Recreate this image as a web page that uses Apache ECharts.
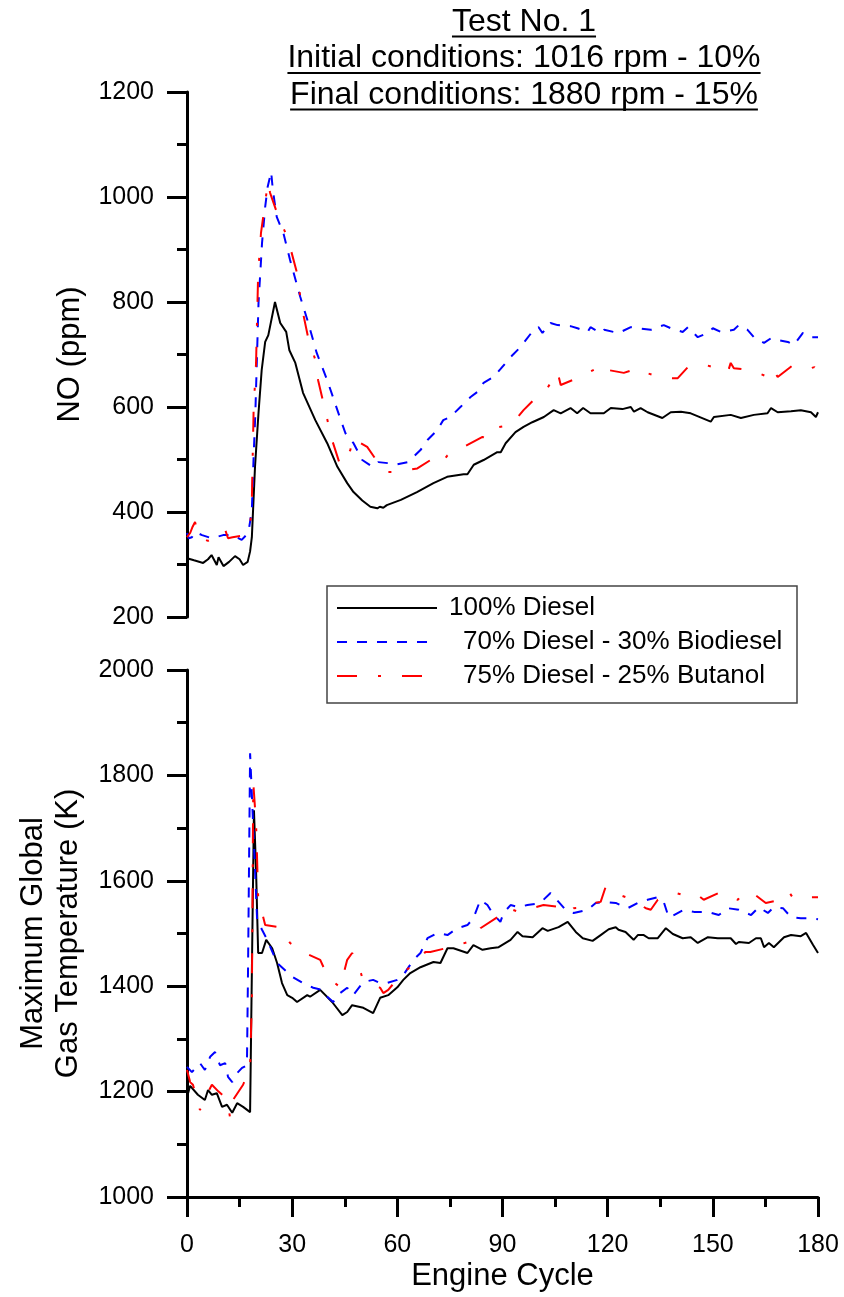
<!DOCTYPE html>
<html>
<head>
<meta charset="utf-8">
<title>Test No. 1</title>
<script src="https://cdn.jsdelivr.net/npm/echarts@6/dist/echarts.min.js"></script>
<style>
  html, body { margin: 0; padding: 0; background: #fff; }
  #chart { width: 844px; height: 1297px; }
</style>
</head>
<body>
<div id="chart"></div>
<script>
// ---- data: [engine cycle, value] ----
const seriesNames = ['100% Diesel', '70% Diesel - 30% Biodiesel', '75% Diesel - 25% Butanol'];
const titleLines = ['Test No. 1', 'Initial conditions: 1016 rpm - 10%', 'Final conditions: 1880 rpm - 15%'];
const xTicks = [0, 30, 60, 90, 120, 150, 180];

// NO (ppm)
const noDiesel = [
  [0, 312], [2, 308], [4.6, 303], [6, 310], [7, 318], [8.5, 299], [9, 314], [10.4, 297], [12, 305],
  [13.7, 316], [15, 310], [16, 299], [17.3, 305], [18, 325], [18.5, 352], [19.4, 486], [20.4, 589],
  [21.3, 670], [22.3, 724], [23.2, 737], [25.1, 800], [26.6, 760], [28.3, 743], [29.2, 708], [30.9, 684],
  [33.1, 627], [36.6, 575], [40, 531], [42.9, 486], [45.7, 455], [47.5, 438], [50, 422], [52.3, 410],
  [54.3, 407], [55, 410], [56, 408], [57, 413], [61, 423], [65.6, 438], [70.3, 455], [74.2, 467],
  [78.9, 472], [80, 472], [81.8, 490], [84.6, 499], [88.5, 514], [89.5, 514], [90.9, 531], [93.7, 552],
  [96, 562], [98.5, 571], [101.8, 581], [104.6, 594], [106.6, 588], [109.4, 598], [111.3, 588], [113, 598],
  [115.1, 588], [118.9, 588], [120.9, 598], [124.2, 596], [126.6, 600], [127.5, 591], [129.4, 598],
  [131.4, 590], [135.6, 579], [138, 590], [140.9, 591], [143.7, 588], [149.4, 572], [150.3, 581],
  [155.1, 585], [158, 579], [161.7, 585], [165.6, 588], [166.6, 598], [168.5, 590], [172.3, 592],
  [175.1, 594], [178, 590], [179.4, 581], [180, 590]
];
const noBiodiesel = [
  [0, 360], [0.5, 350], [1.4, 352], [2.3, 362], [4.3, 356], [7.1, 350], [10.3, 356], [13, 356],
  [15.6, 347], [17.5, 360], [18.5, 404], [19, 505], [19.5, 589], [20.4, 798], [21.4, 912], [22.3, 981],
  [23, 1019], [24, 1048], [24.5, 1013], [25.6, 962], [27.5, 931], [29.4, 880], [32.3, 810], [34.6, 760],
  [37, 703], [40, 651], [42.9, 594], [45.2, 550], [47.5, 531], [50, 499], [52.9, 486], [54.6, 495],
  [57.4, 493], [59.4, 490], [62.9, 495], [64.6, 505], [66.6, 518], [68.6, 537], [71.4, 556], [73.1, 575],
  [75.1, 581], [78, 600], [80.9, 619], [82.9, 629], [84.6, 646], [87.4, 657], [89.4, 672], [92.6, 697],
  [95.1, 714], [98.9, 747], [100.3, 752], [101.4, 741], [103.7, 760], [105.7, 756], [109.4, 754],
  [111.4, 750], [114.3, 743], [115.1, 752], [118, 741], [119, 747], [121.7, 743], [123.1, 741],
  [126.6, 752], [128.6, 750], [132.3, 747], [134.2, 752], [136, 756], [138, 750], [141.4, 743],
  [142.9, 752], [145.1, 737], [145.7, 733], [148.6, 741], [150, 750], [152.3, 743], [156, 747],
  [157.4, 756], [159.9, 747], [161.7, 733], [164.6, 722], [166.6, 731], [168, 728], [171.4, 724],
  [173.1, 718], [175.7, 741], [178, 733], [180, 733]
];
const noButanol = [
  [0, 352], [0.9, 360], [1.6, 372], [2.3, 381], [3.3, 352], [6, 345], [8, 352], [9.4, 362], [10.9, 366],
  [11.7, 350], [13, 352], [16.6, 356], [18, 371], [18.5, 423], [19, 594], [19.7, 684], [20.3, 855],
  [21.1, 931], [23.1, 1029], [23.7, 1008], [25.4, 975], [28, 933], [29.4, 905], [31.4, 855], [32.3, 810],
  [33.1, 779], [34.6, 731], [36.6, 690], [37.4, 651], [38.9, 608], [41.4, 537], [43.7, 489], [46.6, 518],
  [47.1, 541], [51.4, 524], [54.6, 493], [55.1, 486], [57, 476], [59.4, 476], [65.7, 483], [70.9, 505],
  [72.9, 495], [74.3, 508], [78.9, 524], [84.3, 543], [85.3, 541], [87.1, 560], [92.3, 565], [96, 594],
  [99.4, 617], [102.8, 636], [105.7, 667], [106.6, 642], [111.4, 655], [117, 674], [120, 680],
  [120.5, 670], [124.6, 665], [128.9, 674], [130, 670], [131, 665], [136, 655], [140, 655], [142.9, 676],
  [148, 680], [154.3, 667], [155.1, 684], [156, 674], [160.9, 670], [166.6, 655], [167.4, 670],
  [168.5, 657], [172.9, 680], [178, 674], [179, 676], [180, 667]
];

// Maximum global gas temperature (K)
const tDiesel = [
  [0, 1190], [0.9, 1211], [1.4, 1209], [3.1, 1194], [5.1, 1184], [6, 1203], [7.1, 1194], [8.5, 1197],
  [10, 1171], [11.4, 1175], [12.9, 1160], [14.3, 1178], [16, 1171], [18, 1161], [18.5, 1425], [19.1, 1734],
  [19.7, 1620], [20.3, 1463], [21.4, 1463], [22.6, 1488], [24.3, 1472], [25.7, 1444], [27.1, 1406],
  [28.6, 1383], [30, 1378], [31.4, 1370], [34.3, 1383], [35.1, 1380], [38, 1393], [41.4, 1370],
  [44.3, 1345], [45.7, 1351], [47.1, 1364], [50.3, 1359], [53.1, 1349], [55.1, 1378], [57.4, 1383],
  [60, 1398], [61.7, 1412], [63.7, 1425], [66.6, 1436], [70.3, 1446], [72.3, 1444], [74.3, 1472],
  [76, 1472], [80, 1463], [81.7, 1478], [84.3, 1469], [86.6, 1472], [88.9, 1474], [92.3, 1488],
  [94.3, 1503], [95.7, 1495], [98.6, 1493], [101.4, 1510], [102.9, 1505], [106, 1512], [108.6, 1522],
  [110.9, 1503], [112.9, 1491], [115.7, 1486], [118, 1497], [120.3, 1508], [122.3, 1512], [123.1, 1507],
  [125.1, 1503], [127.4, 1488], [128.6, 1497], [130.3, 1497], [131.7, 1491], [134.3, 1491], [136.6, 1510],
  [138.6, 1499], [141.4, 1491], [143.7, 1493], [145.7, 1482], [148.6, 1493], [151.4, 1491], [155.1, 1491],
  [156.6, 1480], [157.4, 1484], [160.3, 1482], [162.3, 1491], [163.7, 1491], [164.6, 1474], [166, 1482],
  [167.4, 1474], [170.3, 1493], [172.3, 1497], [175.1, 1495], [176.6, 1501], [178.6, 1478], [180, 1463]
];
const tBiodiesel = [
  [0, 1247], [1.4, 1237], [3.7, 1254], [5.1, 1241], [6.6, 1266], [8, 1275], [9.4, 1250], [10.9, 1254],
  [11.7, 1228], [12.9, 1218], [14.3, 1235], [15.7, 1245], [17.1, 1250], [17.4, 1425], [18, 1842],
  [18.9, 1702], [20, 1526], [21.4, 1507], [22.9, 1488], [25.7, 1444], [30, 1418], [33.1, 1406], [36, 1397],
  [38.6, 1393], [40, 1380], [41.7, 1370], [43.7, 1387], [45.7, 1397], [47.4, 1383], [50.3, 1408],
  [53.1, 1412], [55.1, 1406], [57, 1406], [60, 1412], [61.7, 1421], [64.6, 1450], [66.6, 1463],
  [68.6, 1491], [71.4, 1501], [74.3, 1497], [77.1, 1510], [80, 1516], [81.7, 1529], [83.7, 1564],
  [85.7, 1554], [87.1, 1539], [89.4, 1522], [90.3, 1539], [92.3, 1554], [94.6, 1550], [97.1, 1554],
  [99.4, 1556], [101.7, 1564], [103.7, 1577], [106, 1560], [108, 1545], [110.3, 1539], [114.3, 1545],
  [116.6, 1558], [118.9, 1560], [122.3, 1558], [125.7, 1548], [128.6, 1558], [131.4, 1564], [134.3, 1569],
  [136, 1560], [137.4, 1531], [138.9, 1535], [141.7, 1545], [144.6, 1541], [148.6, 1541], [151.7, 1535],
  [154.3, 1548], [157.4, 1545], [160.9, 1535], [163.1, 1550], [165.7, 1539], [167.4, 1550], [170, 1548],
  [172.3, 1531], [175.1, 1529], [178, 1529], [180, 1527]
];
const tButanol = [
  [0, 1241], [0.9, 1218], [1.7, 1213], [3.7, 1165], [6, 1199], [7.1, 1213], [9, 1200], [11.4, 1186],
  [12.3, 1150], [13.1, 1184], [16, 1213], [18, 1247], [18.5, 1374], [18.9, 1786], [19.7, 1710],
  [20.3, 1570], [22.3, 1516], [26.6, 1512], [29.4, 1482], [33.7, 1463], [38, 1450], [40.3, 1416],
  [43.7, 1398], [45.7, 1450], [47.1, 1463], [48.5, 1450], [50, 1416], [55.1, 1397], [56, 1387],
  [57.4, 1393], [61.4, 1425], [65.7, 1446], [68, 1465], [69.4, 1465], [75.1, 1474], [80.3, 1484],
  [81.7, 1488], [83.7, 1510], [88.6, 1531], [92.3, 1550], [92.9, 1545], [94.6, 1541], [96.6, 1545],
  [101.7, 1554], [106.6, 1550], [108.6, 1539], [110.3, 1548], [114.6, 1550], [116, 1558], [118, 1560],
  [119.4, 1588], [120.9, 1586], [121.7, 1577], [126, 1567], [130.9, 1548], [132.3, 1545], [134.3, 1564],
  [139.4, 1577], [143.7, 1569], [145.7, 1573], [147.4, 1564], [152.3, 1579], [157.1, 1564], [158.9, 1577],
  [160.9, 1579], [165.1, 1558], [169.4, 1564], [171.7, 1579], [172.9, 1567], [177.1, 1569], [180, 1569]
];

// ---- styling ----
const FONT = '"Liberation Sans", Arial, Helvetica, sans-serif';
const colors = ['#000000', '#0000ff', '#ff0000'];
const dashes = ['solid', [10, 10], [20, 21, 3, 21]];

const chart = echarts.init(document.getElementById('chart'), null, { renderer: 'canvas' });

const measure = (() => {
  const ctx = document.createElement('canvas').getContext('2d');
  return (text, size) => {
    ctx.font = size + 'px ' + FONT;
    return ctx.measureText(text).width;
  };
})();

const plain = v => String(v); // no thousands separator

const yAxisBase = (gridIndex, min, max, name, nameGap) => ({
  gridIndex,
  type: 'value',
  min,
  max,
  interval: 200,
  name,
  nameLocation: 'middle',
  nameGap,
  nameTextStyle: { fontSize: 31, fontFamily: FONT, color: '#000', lineHeight: 35 },
  axisLine: { show: true, lineStyle: { color: '#000', width: 3 } },
  axisTick: { show: true, length: 20, lineStyle: { color: '#000', width: 3 } },
  minorTick: { show: true, splitNumber: 2, length: 10, lineStyle: { color: '#000', width: 3 } },
  splitLine: { show: false },
  axisLabel: { fontSize: 25, fontFamily: FONT, color: '#000', margin: 33, formatter: plain }
});

// title with underlines
const titleGraphics = [];
titleLines.forEach((t, i) => {
  const cy = 22 + i * 36.5;
  const w = measure(t, 32);
  titleGraphics.push({
    type: 'text',
    x: 524,
    y: cy,
    style: { text: t, font: '32px ' + FONT, fill: '#000', align: 'center', verticalAlign: 'middle', textAlign: 'center', textVerticalAlign: 'middle' }
  });
  titleGraphics.push({
    type: 'line',
    shape: { x1: 524 - w / 2, y1: cy + 14.5, x2: 524 + w / 2, y2: cy + 14.5 },
    style: { stroke: '#000', lineWidth: 2 }
  });
});

// boxed legend
const legendRows = [608, 642, 676];
const legendTextX = [449, 463, 463];
const legendGraphics = [{
  type: 'rect',
  shape: { x: 327, y: 586, width: 470, height: 117 },
  style: { fill: '#fff', stroke: '#444', lineWidth: 1.5 }
}];
seriesNames.forEach((n, i) => {
  legendGraphics.push({
    type: 'line',
    shape: { x1: 337, y1: legendRows[i], x2: i === 0 ? 437 : 433, y2: legendRows[i] },
    style: { stroke: colors[i], lineWidth: 2, lineDash: dashes[i] === 'solid' ? null : dashes[i] }
  });
  legendGraphics.push({
    type: 'text',
    x: legendTextX[i],
    y: legendRows[i],
    style: { text: n, font: '26px ' + FONT, fill: '#000', align: 'left', verticalAlign: 'middle', textAlign: 'left', textVerticalAlign: 'middle' }
  });
});

const line = (name, data, idx, k) => ({
  name,
  type: 'line',
  xAxisIndex: idx,
  yAxisIndex: idx,
  data,
  showSymbol: false,
  symbol: 'none',
  clip: false,
  lineStyle: { color: colors[k], width: 2, type: dashes[k] },
  itemStyle: { color: colors[k] }
});

const option = {
  animation: false,
  backgroundColor: '#fff',
  grid: [
    { left: 187, top: 92, width: 631, height: 525 },
    { left: 187, top: 670, width: 631, height: 527 }
  ],
  xAxis: [
    { gridIndex: 0, type: 'value', min: 0, max: 180, show: false },
    {
      gridIndex: 1,
      type: 'value',
      min: xTicks[0],
      max: xTicks[xTicks.length - 1],
      interval: 30,
      name: 'Engine Cycle',
      nameLocation: 'middle',
      nameGap: 64,
      nameTextStyle: { fontSize: 31, fontFamily: FONT, color: '#000' },
      axisLine: { show: true, lineStyle: { color: '#000', width: 3 } },
      axisTick: { show: true, length: 20, lineStyle: { color: '#000', width: 3 } },
      minorTick: { show: true, splitNumber: 2, length: 10, lineStyle: { color: '#000', width: 3 } },
      splitLine: { show: false },
      axisLabel: { fontSize: 25, fontFamily: FONT, color: '#000', margin: 36, formatter: plain }
    }
  ],
  yAxis: [
    yAxisBase(0, 200, 1200, 'NO (ppm)', 95),
    yAxisBase(1, 1000, 2000, 'Maximum Global\nGas Temperature (K)', 101)
  ],
  series: [
    line(seriesNames[0], noDiesel, 0, 0),
    line(seriesNames[1], noBiodiesel, 0, 1),
    line(seriesNames[2], noButanol, 0, 2),
    line(seriesNames[0], tDiesel, 1, 0),
    line(seriesNames[1], tBiodiesel, 1, 1),
    line(seriesNames[2], tButanol, 1, 2)
  ],
  graphic: [
    { type: 'group', z: 100, children: titleGraphics },
    { type: 'group', z: 100, children: legendGraphics }
  ]
};

chart.setOption(option);
window.addEventListener('resize', () => chart.resize());
</script>
</body>
</html>
